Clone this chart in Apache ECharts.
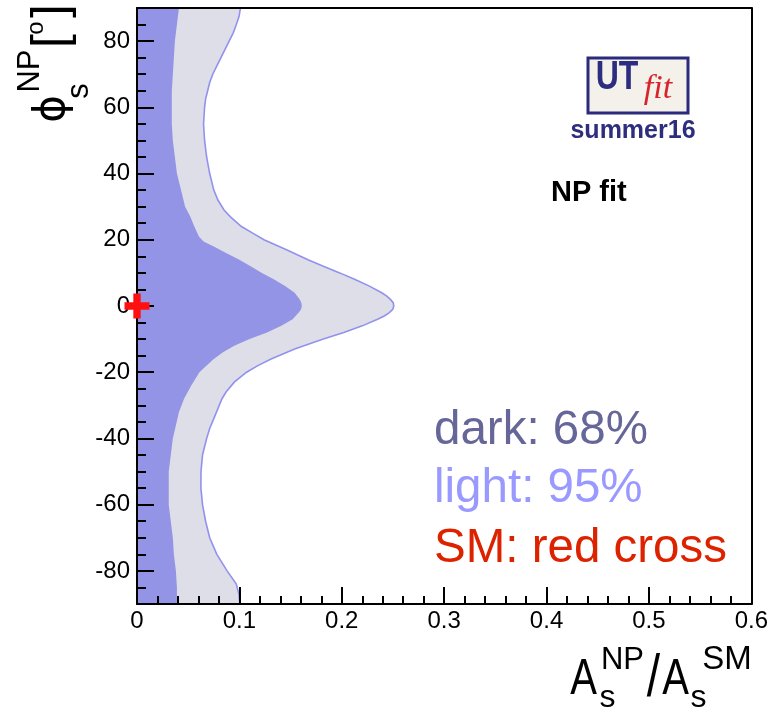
<!DOCTYPE html>
<html>
<head>
<meta charset="utf-8">
<script src="https://cdn.jsdelivr.net/npm/echarts@6/dist/echarts.min.js"></script>
<style>
html,body{margin:0;padding:0;background:#fff;}
#chart{width:771px;height:715px;}
</style>
</head>
<body>
<div id="chart"></div>
<script>
// ---- data ----
// 95% region boundary: x = A_s^NP/A_s^SM at given phi (deg)
const phiLight = [90, 87.5, 85, 82.5, 80, 77.5, 75, 72.5, 70, 67.5, 65, 62.5, 60, 55, 50, 45, 40, 35, 32, 29, 27, 24, 22, 20, 17, 14, 12, 10, 8, 6, 4, 3, 2, 1, 0, -1, -2, -3, -4, -6, -8, -10, -13, -16, -18, -20, -23, -26, -28, -31, -34, -37, -40, -45, -50, -55, -60, -65, -70, -75, -80, -84, -87, -90];
const xLight = [0.101, 0.0997, 0.097, 0.094, 0.090, 0.086, 0.082, 0.078, 0.074, 0.071, 0.069, 0.067, 0.066, 0.065, 0.066, 0.068, 0.071, 0.075, 0.079, 0.085, 0.091, 0.102, 0.113, 0.124, 0.146, 0.167, 0.182, 0.198, 0.213, 0.227, 0.239, 0.244, 0.2475, 0.2502, 0.2508, 0.2498, 0.2465, 0.2415, 0.235, 0.220, 0.202, 0.182, 0.154, 0.131, 0.118, 0.107, 0.095, 0.087, 0.083, 0.079, 0.075, 0.071, 0.068, 0.064, 0.0625, 0.0624, 0.064, 0.067, 0.071, 0.078, 0.088, 0.097, 0.0995, 0.1005];
// 68% region boundary
const phiDark = [90, 85, 80, 75, 70, 65, 60, 55, 50, 45, 40, 35, 30, 27, 24, 21, 19.5, 18, 16, 14, 12, 10, 8, 6, 4, 2, 1, 0, -1, -2, -4, -6, -8, -10, -12, -14, -16, -18, -20, -24, -28, -32, -36, -40, -45, -50, -55, -60, -65, -70, -75, -80, -85, -90];
const xDark = [0.041, 0.039, 0.037, 0.036, 0.035, 0.034, 0.034, 0.034, 0.035, 0.037, 0.039, 0.043, 0.047, 0.052, 0.056, 0.0605, 0.065, 0.075, 0.087, 0.100, 0.111, 0.122, 0.134, 0.145, 0.154, 0.159, 0.1605, 0.161, 0.1603, 0.158, 0.152, 0.141, 0.127, 0.110, 0.095, 0.084, 0.075, 0.068, 0.061, 0.053, 0.046, 0.041, 0.038, 0.035, 0.033, 0.031, 0.031, 0.031, 0.033, 0.035, 0.036, 0.038, 0.039, 0.039];
// Standard Model point
const smPoint = [[0, 0]];
// axis tick labels
const yLabelValues = [-80, -60, -40, -20, 0, 20, 40, 60, 80];
const xRange = [0, 0.6];
const yRange = [-90, 90];
const legendLines = ['dark: 68%', 'light: 95%', 'SM: red cross'];

const FONT = "'Liberation Sans', Arial, Helvetica, sans-serif";

function regionRender(xs, ys, fill, stroke) {
  return function (params, api) {
    if (params.dataIndex !== 0) return null;
    const pts = [api.coord([0, ys[0]])];
    const line = [];
    for (let i = 0; i < xs.length; i++) {
      const p = api.coord([xs[i], ys[i]]);
      pts.push(p);
      line.push(p);
    }
    pts.push(api.coord([0, ys[ys.length - 1]]));
    const children = [{
      type: 'polygon',
      shape: { points: pts },
      style: { fill: fill, stroke: null }
    }];
    if (stroke) {
      children.push({
        type: 'polyline',
        shape: { points: line },
        style: { fill: null, stroke: stroke, lineWidth: 1.6 }
      });
    }
    return { type: 'group', children: children };
  };
}

function txt(text, x, y, size, opts) {
  opts = opts || {};
  return {
    type: 'text', x: x, y: y, z: 100,
    rotation: opts.rotation || 0,
    scaleX: opts.scaleX || 1,
    scaleY: opts.scaleY || 1,
    style: {
      text: text,
      font: (opts.style || '') + ' ' + (opts.weight || 'normal') + ' ' + size + 'px ' + (opts.family || FONT),
      fill: opts.color || '#000',
      textAlign: opts.align || 'center',
      align: opts.align || 'center',
      textVerticalAlign: 'middle',
      verticalAlign: 'middle'
    }
  };
}

const chart = echarts.init(document.getElementById('chart'), null, { renderer: 'canvas' });

const axisLineStyle = { color: '#000', width: 2 };

const option = {
  backgroundColor: '#fff',
  animation: false,
  grid: { left: 137, right: 19, top: 8, bottom: 111, containLabel: false },
  xAxis: [{
    type: 'value', min: xRange[0], max: xRange[1], interval: 0.1, position: 'bottom', z: 10,
    axisLine: { show: true, onZero: false, lineStyle: axisLineStyle },
    axisTick: { show: true, inside: true, length: 17, lineStyle: axisLineStyle },
    minorTick: { show: true, splitNumber: 5, length: 8, lineStyle: axisLineStyle },
    splitLine: { show: false },
    axisLabel: { fontSize: 24, fontFamily: FONT, color: '#000', margin: 5 }
  }, {
    type: 'value', min: xRange[0], max: xRange[1], position: 'top', z: 10,
    axisLine: { show: true, onZero: false, lineStyle: axisLineStyle },
    axisTick: { show: false }, axisLabel: { show: false }, splitLine: { show: false }
  }],
  yAxis: [{
    type: 'value', min: yRange[0], max: yRange[1], interval: 5, position: 'left', z: 10,
    axisLine: { show: true, onZero: false, lineStyle: axisLineStyle },
    axisTick: { show: true, inside: true, length: 9, lineStyle: axisLineStyle },
    splitLine: { show: false },
    axisLabel: { customValues: yLabelValues, fontSize: 24, fontFamily: FONT, color: '#000', margin: 7 }
  }, {
    type: 'value', min: yRange[0], max: yRange[1], interval: 5, position: 'left', offset: 0, z: 10,
    axisLine: { show: false, onZero: false },
    axisTick: { show: true, inside: true, length: 17, customValues: yLabelValues, lineStyle: axisLineStyle },
    axisLabel: { show: false }, splitLine: { show: false }
  }, {
    type: 'value', min: yRange[0], max: yRange[1], position: 'right', z: 10,
    axisLine: { show: true, onZero: false, lineStyle: axisLineStyle },
    axisTick: { show: false }, axisLabel: { show: false }, splitLine: { show: false }
  }],
  series: [{
    type: 'custom', name: '95%', xAxisIndex: 0, yAxisIndex: 0, z: 2, clip: true,
    data: xLight.map((x, i) => [x, phiLight[i]]),
    encode: { x: 0, y: 1 },
    renderItem: regionRender(xLight, phiLight, '#dedee8', '#9292ee')
  }, {
    type: 'custom', name: '68%', xAxisIndex: 0, yAxisIndex: 0, z: 3, clip: true,
    data: xDark.map((x, i) => [x, phiDark[i]]),
    encode: { x: 0, y: 1 },
    renderItem: regionRender(xDark, phiDark, '#9494e6', null)
  }, {
    type: 'scatter', name: 'SM', xAxisIndex: 0, yAxisIndex: 0, z: 20, clip: false,
    data: smPoint,
    symbol: 'path://M-1,-3.4H1V-1H3.4V1H1V3.4H-1V1H-3.4V-1H-1Z',
    symbolSize: 25,
    itemStyle: { color: '#ff1010', opacity: 1 },
    silent: true
  }],
  graphic: {
    elements: [
      // y-axis title  phi_s^NP [o]
      txt('\u03D5', 53, 109, 42, { rotation: Math.PI / 2, family: "'DejaVu Sans', sans-serif" }),
      txt('NP', 30, 71, 31, { rotation: Math.PI / 2 }),
      txt('s', 79, 91, 31, { rotation: Math.PI / 2 }),
      txt('[', 52, 41, 50, { rotation: Math.PI / 2 }),
      txt('o', 36.5, 28, 24, { rotation: Math.PI / 2 }),
      txt(']', 52, 11, 50, { rotation: Math.PI / 2 }),
      // x-axis title  A_s^NP / A_s^SM
      txt('A', 583.5, 680, 50, { scaleX: 0.8 }),
      txt('s', 607.5, 698.5, 32),
      txt('NP', 622.5, 660, 31),
      txt('/', 653.5, 679, 60, { scaleX: 0.8 }),
      txt('A', 675.5, 680, 50, { scaleX: 0.8 }),
      txt('s', 698.5, 698.5, 32),
      txt('SM', 727, 660, 33),
      // logo
      {
        type: 'rect', z: 100,
        shape: { x: 588, y: 58, width: 100, height: 55 },
        style: { fill: '#f4f1ea', stroke: '#2b2b7d', lineWidth: 3 }
      },
      txt('UT', 617, 78, 40, { weight: 'bold', color: '#2d2d80', scaleX: 0.8 }),
      txt('fit', 658, 89, 34, { style: 'italic', color: '#d8232a', family: "'Liberation Serif', 'Times New Roman', serif" }),
      txt('summer16', 633, 131, 25, { weight: 'bold', color: '#2e2e7e' }),
      txt('NP fit', 551, 193, 29, { weight: 'bold', align: 'left' }),
      // legend text
      txt(legendLines[0], 434, 431, 47.5, { align: 'left', color: '#666699' }),
      txt(legendLines[1], 434, 489, 47.5, { align: 'left', color: '#9999ff' }),
      txt(legendLines[2], 434, 549, 47.5, { align: 'left', color: '#dd2200' })
    ]
  }
};

chart.setOption(option);
</script>
</body>
</html>
